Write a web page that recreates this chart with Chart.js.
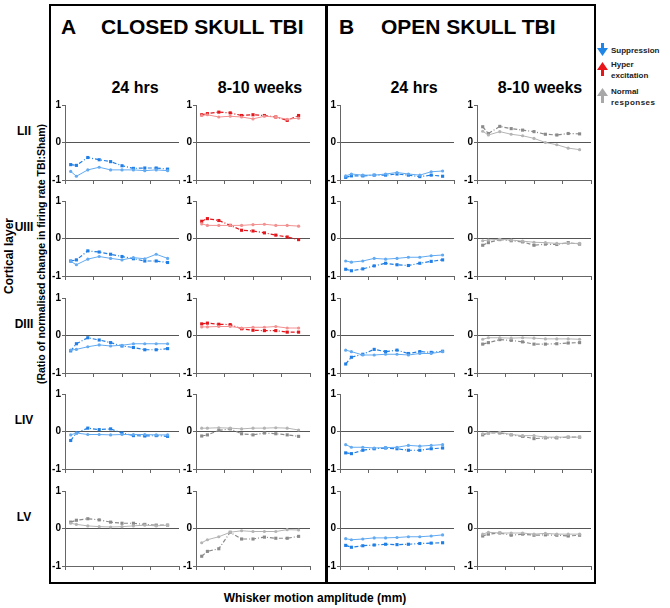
<!DOCTYPE html>
<html>
<head>
<meta charset="utf-8">
<script src="https://cdn.jsdelivr.net/npm/chart.js@4.4.0/dist/chart.umd.min.js"></script>
<style>
  html, body { margin:0; padding:0; background:#fff; }
  body { width:670px; height:608px; position:relative; overflow:hidden; font-family:"Liberation Sans", Arial, sans-serif; color:#000; }
  .t { position:absolute; font-weight:bold; white-space:nowrap; }
  canvas { position:absolute; }
</style>
</head>
<body>
<div style="position:absolute;left:49px;top:4px;width:547px;height:580px;border:2.5px solid #000;box-sizing:border-box;"></div>
<div style="position:absolute;left:325px;top:4px;width:2.5px;height:580px;background:#000;"></div>

<div class="t" style="left:61px;top:15px;font-size:21px;">A</div>
<div class="t" style="left:101px;top:15px;font-size:21px;">CLOSED SKULL TBI</div>
<div class="t" style="left:339px;top:15px;font-size:21px;">B</div>
<div class="t" style="left:381px;top:15px;font-size:21px;">OPEN SKULL TBI</div>

<div id="subs"></div>
<div id="rowlabels"></div>

<div class="t" style="left:9px;top:256px;font-size:12px;transform:translate(-50%,-50%) rotate(-90deg);">Cortical layer</div>
<div class="t" style="left:41px;top:254px;font-size:10.5px;transform:translate(-50%,-50%) rotate(-90deg);">(Ratio of normalised change in firing rate TBI:Sham)</div>

<div class="t" style="left:315px;top:598px;font-size:12px;transform:translate(-50%,-50%);">Whisker motion amplitude (mm)</div>

<!-- legend -->
<svg style="position:absolute;left:596px;top:41px;" width="14" height="72">
  <rect x="5" y="2" width="3" height="6" fill="#1f86e8"/>
  <polygon points="1,7 12,7 6.5,15" fill="#1f86e8"/>
  <polygon points="1,29 12,29 6.5,21" fill="#e8151b"/>
  <rect x="5" y="28" width="3" height="7" fill="#e8151b"/>
  <polygon points="1,55 12,55 6.5,47" fill="#a8a8a8"/>
  <rect x="5" y="54" width="3" height="8" fill="#a8a8a8"/>
</svg>
<div class="t" style="left:611px;top:46px;font-size:8px;color:#222;">Suppression</div>
<div class="t" style="left:611px;top:60px;font-size:8px;color:#222;">Hyper</div>
<div class="t" style="left:611px;top:71px;font-size:8px;color:#222;">excitation</div>
<div class="t" style="left:611px;top:87px;font-size:8px;color:#222;">Normal</div>
<div class="t" style="left:611px;top:98px;font-size:8px;color:#222;letter-spacing:0.5px;">responses</div>

<script>
// ---- categories / labels ----
const amplitudes = [0.5, 1, 2, 3, 4, 5, 6, 7, 8, 9];   // whisker motion amplitude steps
const layers = ['LII', 'UIII', 'DIII', 'LIV', 'LV'];
const columnTitles = ['24 hrs', '8-10 weeks', '24 hrs', '8-10 weeks'];
const yTicks = [-1, 0, 1];

// ---- response type per panel: S = suppression, H = hyper excitation, N = normal ----
const typeLII  = ['S', 'H', 'S', 'N'];
const typeUIII = ['S', 'H', 'S', 'N'];
const typeDIII = ['S', 'H', 'S', 'N'];
const typeLIV  = ['S', 'N', 'S', 'N'];
const typeLV   = ['N', 'N', 'S', 'N'];

// ---- series values (solid line = light, dash-dot = dark) ----
// Closed skull, 24 hrs
const c24_LII_solid  = [-0.77, -0.90, -0.73, -0.66, -0.73, -0.73, -0.73, -0.75, -0.73, -0.75];
const c24_LII_dash   = [-0.59, -0.61, -0.40, -0.46, -0.51, -0.62, -0.69, -0.68, -0.68, -0.71];
const c24_UIII_solid = [-0.61, -0.70, -0.55, -0.48, -0.53, -0.57, -0.51, -0.54, -0.42, -0.53];
const c24_UIII_dash  = [-0.60, -0.57, -0.33, -0.36, -0.42, -0.48, -0.54, -0.60, -0.60, -0.64];
const c24_DIII_solid = [-0.39, -0.37, -0.30, -0.25, -0.28, -0.26, -0.22, -0.22, -0.22, -0.22];
const c24_DIII_dash  = [-0.41, -0.22, -0.06, -0.12, -0.19, -0.28, -0.32, -0.38, -0.38, -0.35];
const c24_LIV_solid  = [-0.09, -0.04, -0.08, -0.08, -0.09, -0.08, -0.08, -0.08, -0.09, -0.09];
const c24_LIV_dash   = [-0.24, -0.04, 0.09, 0.05, 0.07, -0.04, -0.11, -0.12, -0.11, -0.13];
const c24_LV_solid   = [0.14, 0.11, 0.07, 0.05, 0.04, 0.05, 0.07, 0.09, 0.07, 0.09];
const c24_LV_dash    = [0.17, 0.22, 0.26, 0.23, 0.17, 0.14, 0.14, 0.11, 0.09, 0.09];
// Closed skull, 8-10 weeks
const c8w_LII_solid  = [0.72, 0.74, 0.68, 0.70, 0.68, 0.63, 0.70, 0.68, 0.62, 0.65];
const c8w_LII_dash   = [0.74, 0.77, 0.81, 0.79, 0.72, 0.74, 0.72, 0.68, 0.59, 0.72];
const c8w_UIII_solid = [0.39, 0.35, 0.35, 0.35, 0.35, 0.37, 0.38, 0.35, 0.35, 0.33];
const c8w_UIII_dash  = [0.46, 0.53, 0.48, 0.35, 0.22, 0.20, 0.15, 0.09, 0.04, -0.03];
const c8w_DIII_solid = [0.23, 0.23, 0.24, 0.24, 0.20, 0.22, 0.22, 0.24, 0.20, 0.20];
const c8w_DIII_dash  = [0.31, 0.33, 0.30, 0.29, 0.18, 0.14, 0.13, 0.13, 0.09, 0.09];
const c8w_LIV_solid  = [0.09, 0.09, 0.10, 0.09, 0.07, 0.09, 0.09, 0.10, 0.09, 0.04];
const c8w_LIV_dash   = [-0.12, -0.09, 0.03, 0.07, -0.06, -0.09, -0.04, -0.06, -0.09, -0.13];
const c8w_LV_solid   = [-0.38, -0.30, -0.22, -0.10, -0.06, -0.08, -0.08, -0.08, -0.03, -0.04];
const c8w_LV_dash    = [-0.74, -0.61, -0.54, -0.10, -0.28, -0.28, -0.23, -0.26, -0.26, -0.21];
// Open skull, 24 hrs
const o24_LII_solid  = [-0.89, -0.84, -0.87, -0.87, -0.84, -0.80, -0.84, -0.87, -0.78, -0.76];
const o24_LII_dash   = [-0.93, -0.89, -0.89, -0.87, -0.87, -0.84, -0.87, -0.91, -0.87, -0.90];
const o24_UIII_solid = [-0.60, -0.63, -0.60, -0.53, -0.55, -0.53, -0.50, -0.50, -0.46, -0.44];
const o24_UIII_dash  = [-0.82, -0.86, -0.81, -0.73, -0.66, -0.70, -0.72, -0.66, -0.61, -0.57];
const o24_DIII_solid = [-0.39, -0.43, -0.52, -0.52, -0.50, -0.50, -0.52, -0.48, -0.48, -0.43];
const o24_DIII_dash  = [-0.76, -0.58, -0.50, -0.37, -0.43, -0.39, -0.48, -0.43, -0.45, -0.42];
const o24_LIV_solid  = [-0.35, -0.42, -0.42, -0.44, -0.43, -0.42, -0.37, -0.39, -0.37, -0.35];
const o24_LIV_dash   = [-0.57, -0.59, -0.50, -0.46, -0.44, -0.46, -0.50, -0.50, -0.46, -0.44];
const o24_LV_solid   = [-0.27, -0.30, -0.28, -0.25, -0.25, -0.24, -0.22, -0.22, -0.20, -0.17];
const o24_LV_dash    = [-0.45, -0.50, -0.46, -0.44, -0.42, -0.43, -0.42, -0.40, -0.39, -0.38];
// Open skull, 8-10 weeks
const o8w_LII_solid  = [0.30, 0.20, 0.29, 0.22, 0.18, 0.11, 0.00, -0.06, -0.15, -0.19];
const o8w_LII_dash   = [0.42, 0.24, 0.43, 0.37, 0.33, 0.29, 0.22, 0.20, 0.24, 0.23];
const o8w_UIII_solid = [-0.06, -0.04, -0.02, -0.04, -0.07, -0.10, -0.11, -0.13, -0.13, -0.13];
const o8w_UIII_dash  = [-0.18, -0.11, -0.03, -0.06, -0.09, -0.18, -0.15, -0.16, -0.11, -0.15];
const o8w_DIII_solid = [-0.10, -0.06, -0.06, -0.07, -0.06, -0.07, -0.09, -0.09, -0.09, -0.10];
const o8w_DIII_dash  = [-0.23, -0.19, -0.11, -0.13, -0.17, -0.23, -0.23, -0.22, -0.20, -0.19];
const o8w_LIV_solid  = [-0.06, -0.04, -0.02, -0.08, -0.11, -0.11, -0.15, -0.15, -0.15, -0.15];
const o8w_LIV_dash   = [-0.09, -0.04, -0.04, -0.09, -0.13, -0.19, -0.17, -0.17, -0.15, -0.15];
const o8w_LV_solid   = [-0.15, -0.10, -0.12, -0.12, -0.12, -0.15, -0.13, -0.15, -0.15, -0.15];
const o8w_LV_dash    = [-0.20, -0.15, -0.12, -0.18, -0.15, -0.18, -0.17, -0.18, -0.20, -0.18];

// ---- assemble the grid (rows = layers, columns = conditions) ----
const panelTypes = [typeLII, typeUIII, typeDIII, typeLIV, typeLV];
const panelSolid = [
  [c24_LII_solid,  c8w_LII_solid,  o24_LII_solid,  o8w_LII_solid],
  [c24_UIII_solid, c8w_UIII_solid, o24_UIII_solid, o8w_UIII_solid],
  [c24_DIII_solid, c8w_DIII_solid, o24_DIII_solid, o8w_DIII_solid],
  [c24_LIV_solid,  c8w_LIV_solid,  o24_LIV_solid,  o8w_LIV_solid],
  [c24_LV_solid,   c8w_LV_solid,   o24_LV_solid,   o8w_LV_solid]
];
const panelDash = [
  [c24_LII_dash,  c8w_LII_dash,  o24_LII_dash,  o8w_LII_dash],
  [c24_UIII_dash, c8w_UIII_dash, o24_UIII_dash, o8w_UIII_dash],
  [c24_DIII_dash, c8w_DIII_dash, o24_DIII_dash, o8w_DIII_dash],
  [c24_LIV_dash,  c8w_LIV_dash,  o24_LIV_dash,  o8w_LIV_dash],
  [c24_LV_dash,   c8w_LV_dash,   o24_LV_dash,   o8w_LV_dash]
];

// ---- styling / layout ----
const palette = {
  S: { light: '#62aaf2', dark: '#1f7fe6' },
  H: { light: '#f39090', dark: '#e3161c' },
  N: { light: '#b4b4b4', dark: '#8a8a8a' }
};
const plotLefts = [65, 196, 340, 477];
const plotTops  = [104, 200, 297, 393, 490];
const plotW = 115, plotH = 76;
const axisW = 18, padTop = 6, xAxisH = 6, padRight = 3;
const subCenters = [135, 260, 414, 540];
const FONT = '"Liberation Sans", Arial, sans-serif';

const subs = document.getElementById('subs');
columnTitles.forEach((t, c) => {
  const d = document.createElement('div');
  d.className = 't';
  d.textContent = t;
  d.style.cssText = `left:${subCenters[c]}px;top:88px;font-size:16px;transform:translate(-50%,-50%);`;
  subs.appendChild(d);
});
const rl = document.getElementById('rowlabels');
layers.forEach((t, r) => {
  const d = document.createElement('div');
  d.className = 't';
  d.textContent = t;
  d.style.cssText = `left:24px;top:${plotTops[r] + plotH / 2 - 11}px;font-size:12px;transform:translate(-50%,-50%);`;
  rl.appendChild(d);
});

Chart.defaults.font.family = FONT;

for (let r = 0; r < layers.length; r++) {
  for (let c = 0; c < 4; c++) {
    const col = palette[panelTypes[r][c]];
    const cv = document.createElement('canvas');
    const W = axisW + plotW + padRight, H = padTop + plotH + xAxisH + 1;
    cv.width = W; cv.height = H;
    cv.style.left = (plotLefts[c] - axisW) + 'px';
    cv.style.top = (plotTops[r] - padTop) + 'px';
    cv.style.width = W + 'px'; cv.style.height = H + 'px';
    document.body.appendChild(cv);
    new Chart(cv, {
      type: 'line',
      data: {
        datasets: [
          {
            data: amplitudes.map((x, i) => ({ x, y: panelSolid[r][c][i] })),
            borderColor: col.light, backgroundColor: col.light,
            borderWidth: 1, pointStyle: 'circle', pointRadius: 1.6,
            pointBorderWidth: 0, tension: 0
          },
          {
            data: amplitudes.map((x, i) => ({ x, y: panelDash[r][c][i] })),
            borderColor: col.dark, backgroundColor: col.dark,
            borderWidth: 1.2, borderDash: [4, 2, 1, 2], pointStyle: 'rect', pointRadius: 2.2,
            pointBorderWidth: 0, tension: 0
          }
        ]
      },
      options: {
        responsive: false, animation: false, maintainAspectRatio: false,
        events: [],
        plugins: { legend: { display: false }, tooltip: { enabled: false } },
        layout: { padding: { top: padTop, right: padRight, left: 0, bottom: 1 } },
        scales: {
          x: {
            type: 'linear', min: 0, max: 10,
            ticks: { display: false, stepSize: 2.5 },
            grid: { drawOnChartArea: false, color: '#666', tickColor: '#666', tickLength: 4 },
            border: { color: '#666', width: 1 },
            afterFit: s => { s.height = xAxisH; }
          },
          y: {
            min: -1, max: 1,
            afterBuildTicks: s => { s.ticks = yTicks.map(v => ({ value: v })); },
            ticks: { color: '#000', font: { size: 10, weight: 'bold' }, padding: 1 },
            grid: {
              color: ctx => (ctx.tick && ctx.tick.value === 0) ? '#555' : 'rgba(0,0,0,0)',
              tickColor: '#666', tickLength: 3, lineWidth: 1
            },
            border: { color: '#666', width: 1 },
            afterFit: s => { s.width = axisW; }
          }
        }
      }
    });
  }
}
</script>
</body>
</html>
